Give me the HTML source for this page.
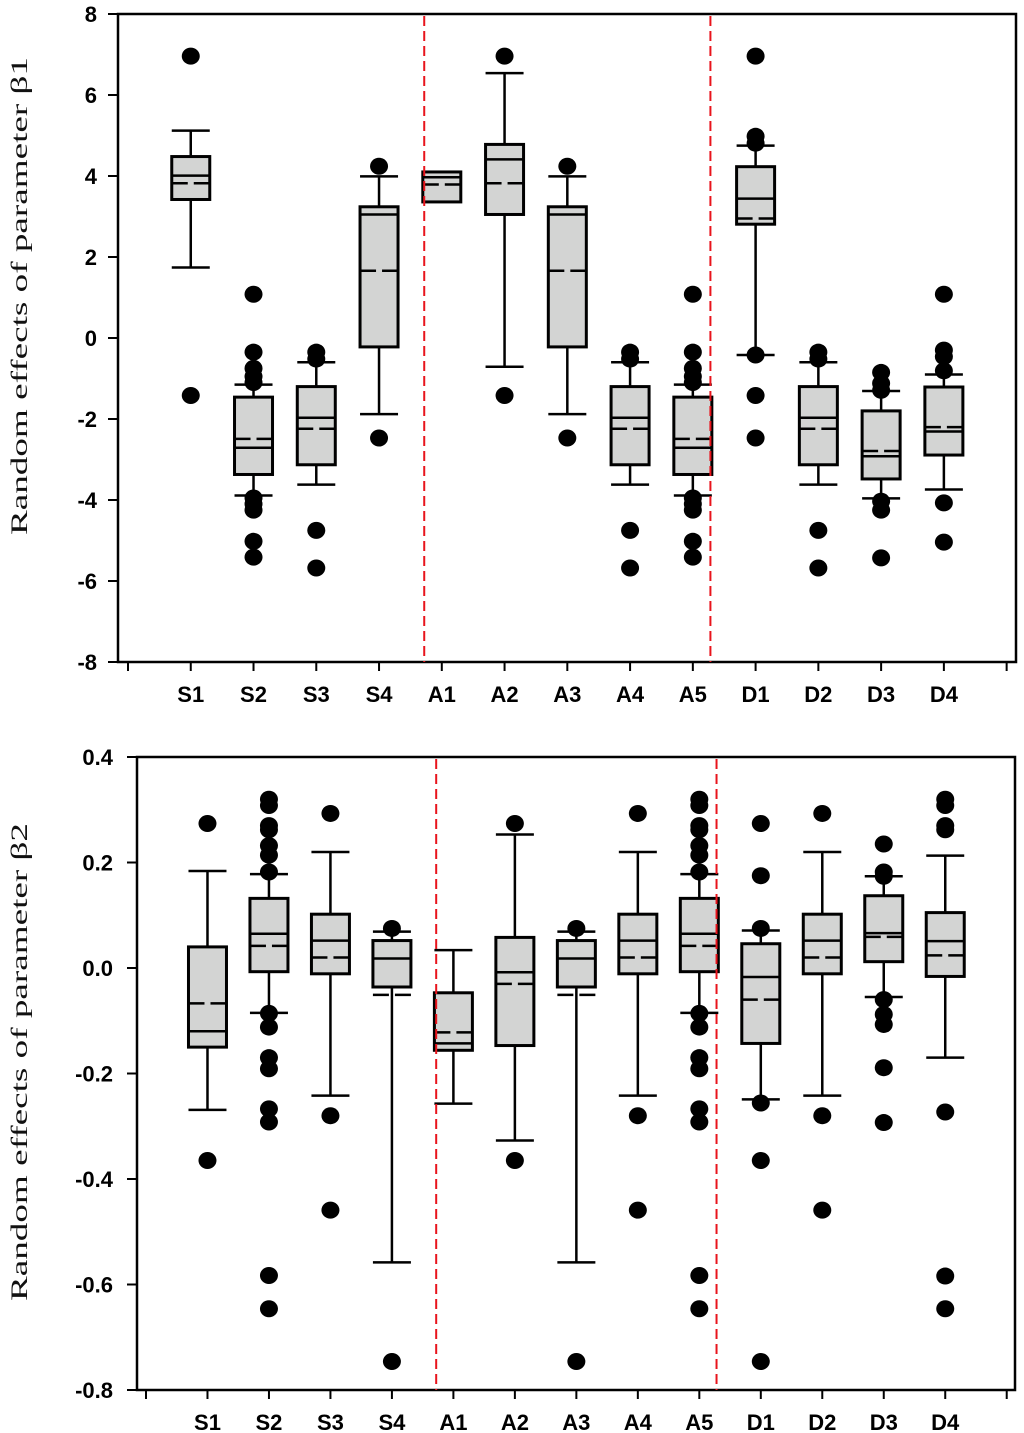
<!DOCTYPE html>
<html><head><meta charset="utf-8"><style>
html,body{margin:0;padding:0;background:#fff;}
svg{display:block;}
.tick{font-family:"Liberation Sans",Arial,sans-serif;font-weight:bold;font-size:22px;fill:#000;}
.ytitle{font-family:"Liberation Serif","Noto Serif CJK SC",serif;font-size:23px;fill:#111;}
</style></head><body>
<svg id="svg" width="1024" height="1433" viewBox="0 0 1024 1433" xmlns="http://www.w3.org/2000/svg"></svg>
<script>
const categories = ["S1","S2","S3","S4","A1","A2","A3","A4","A5","D1","D2","D3","D4"];
const separators = [3.72, 8.28];

// Chart 1: beta1
const b1Ticks = [-8,-6,-4,-2,0,2,4,6,8];
const b1Q3 = [4.48,-1.46,-1.2,3.24,4.1,4.78,3.24,-1.2,-1.46,4.23,-1.2,-1.8,-1.21];
const b1Median = [4.01,-2.71,-1.97,3.05,3.97,4.41,3.05,-1.97,-2.71,3.44,-1.97,-2.92,-2.31];
const b1Q1 = [3.42,-3.37,-3.13,-0.22,3.36,3.05,-0.22,-3.13,-3.37,2.81,-3.13,-3.48,-2.89];
const b1Mean = [3.82,-2.49,-2.24,1.66,3.79,3.82,1.66,-2.24,-2.49,2.95,-2.24,-2.79,-2.2];
const b1WhiskerHigh = [5.12,-1.15,-0.6,3.99,null,6.54,3.99,-0.6,-1.15,4.75,-0.6,-1.31,-0.9];
const b1WhiskerLow = [1.74,-3.89,-3.62,-1.88,null,-0.71,-1.88,-3.62,-3.89,-0.42,-3.62,-3.96,-3.74];
const b1Outliers = [
  [6.96,-1.42],
  [1.08,-0.35,-0.75,-0.95,-1.1,-3.95,-4.1,-4.25,-5.02,-5.41],
  [-0.35,-0.52,-4.75,-5.68],
  [4.24,-2.47],
  [],
  [6.96,-1.42],
  [4.24,-2.47],
  [-0.35,-0.52,-4.75,-5.68],
  [1.08,-0.35,-0.75,-0.95,-1.1,-3.95,-4.1,-4.25,-5.02,-5.41],
  [6.96,4.98,4.81,-0.42,-1.42,-2.47],
  [-0.35,-0.52,-4.75,-5.68],
  [-0.85,-1.12,-1.29,-4.03,-4.25,-5.43],
  [1.08,-0.3,-0.46,-0.81,-4.07,-5.04]
];

// Chart 2: beta2
const b2Ticks = [-0.8,-0.6,-0.4,-0.2,0.0,0.2,0.4];
const b2Q3 = [0.040,0.132,0.102,0.052,-0.047,0.058,0.052,0.102,0.132,0.046,0.102,0.137,0.105];
const b2Median = [-0.120,0.065,0.052,0.018,-0.143,-0.008,0.018,0.052,0.065,-0.017,0.052,0.066,0.051];
const b2Q1 = [-0.150,-0.007,-0.011,-0.036,-0.156,-0.147,-0.036,-0.011,-0.007,-0.143,-0.011,0.012,-0.016];
const b2Mean = [-0.067,0.042,0.020,-0.051,-0.122,-0.030,-0.051,0.020,0.042,-0.060,0.020,0.059,0.024];
const b2WhiskerHigh = [0.184,0.178,0.220,0.069,0.034,0.253,0.069,0.220,0.178,0.071,0.220,0.174,0.213];
const b2WhiskerLow = [-0.269,-0.085,-0.242,-0.558,-0.257,-0.327,-0.558,-0.242,-0.085,-0.249,-0.242,-0.055,-0.170];
const b2Outliers = [
  [0.274,-0.365],
  [0.320,0.308,0.270,0.262,0.232,0.214,0.182,-0.086,-0.112,-0.170,-0.191,-0.267,-0.292,-0.583,-0.646],
  [0.293,-0.280,-0.459],
  [0.075,-0.746],
  [],
  [0.274,-0.365],
  [0.075,-0.746],
  [0.293,-0.280,-0.459],
  [0.320,0.308,0.270,0.262,0.232,0.214,0.182,-0.086,-0.112,-0.170,-0.191,-0.267,-0.292,-0.583,-0.646],
  [0.274,0.175,0.075,-0.256,-0.365,-0.746],
  [0.293,-0.280,-0.459],
  [0.235,0.182,0.174,-0.060,-0.088,-0.107,-0.189,-0.293],
  [0.320,0.308,0.270,0.262,-0.273,-0.584,-0.646]
];

const NS = "http://www.w3.org/2000/svg";
const svg = document.getElementById("svg");
function mk(tag, attrs, parent){
  const e = document.createElementNS(NS, tag);
  for (const k in attrs) e.setAttribute(k, attrs[k]);
  (parent||svg).appendChild(e);
  return e;
}

function drawChart(cfg){
  const g = mk("g", {});
  
  
  const y = v => cfg.top + (cfg.ymax - v) / (cfg.ymax - cfg.ymin) * (cfg.bottom - cfg.top);
  const x = i => cfg.x0 + (i + 1) * cfg.step;
  const bw = 38;

  const fr = mk("rect", {x:cfg.left, y:cfg.top, width:cfg.right-cfg.left, height:cfg.bottom-cfg.top, fill:"none", stroke:"#000", "stroke-width":2.5}, g);
  
  

  cfg.ticks.forEach(t => {
    const yy = y(t);
    const tl = mk("line", {x1:cfg.left-10, x2:cfg.left, y1:yy, y2:yy, stroke:"#000", "stroke-width":2}, g);
    
    
    const tx = mk("text", {x:cfg.labelX, y:yy+8, "text-anchor":"end", class:"tick"}, g);
    tx.textContent = cfg.fmt(t);
    
    
  });

  for (let i = -1; i <= categories.length; i++) {
    const xx = x(i);
    const tl = mk("line", {x1:xx, x2:xx, y1:cfg.bottom, y2:cfg.bottom+9, stroke:"#000", "stroke-width":2}, g);
    
    
  }
  categories.forEach((c, i) => {
    const tx = mk("text", {x:x(i), y:cfg.bottom+40, "text-anchor":"middle", class:"tick"}, g);
    tx.textContent = c;
    
    
  });

  const yt = mk("text", {x:0, y:0, "text-anchor":"middle", class:"ytitle", transform:`translate(${cfg.titleX},${cfg.titleY}) rotate(-90)`, textLength:478, lengthAdjust:"spacingAndGlyphs"}, g);
  yt.textContent = cfg.title;
  
  

  categories.forEach((c, i) => {
    const cx = x(i);
    const bg = mk("g", {}, g);
    
    
    const wh = cfg.wHi[i], wl = cfg.wLo[i];
    if (wh !== null) {
      mk("line", {x1:cx, x2:cx, y1:y(wh), y2:y(cfg.q3[i]), stroke:"#000", "stroke-width":2.5}, bg);
      mk("line", {x1:cx-bw/2, x2:cx+bw/2, y1:y(wh), y2:y(wh), stroke:"#000", "stroke-width":2.5}, bg);
    }
    if (wl !== null) {
      mk("line", {x1:cx, x2:cx, y1:y(cfg.q1[i]), y2:y(wl), stroke:"#000", "stroke-width":2.5}, bg);
      mk("line", {x1:cx-bw/2, x2:cx+bw/2, y1:y(wl), y2:y(wl), stroke:"#000", "stroke-width":2.5}, bg);
    }
    const yT = y(cfg.q3[i]), yB = y(cfg.q1[i]);
    mk("rect", {x:cx-bw/2, y:yT, width:bw, height:yB-yT, fill:"#d3d4d3", stroke:"#000", "stroke-width":3}, bg);
    mk("line", {x1:cx-bw/2, x2:cx+bw/2, y1:y(cfg.med[i]), y2:y(cfg.med[i]), stroke:"#000", "stroke-width":2.5}, bg);
    mk("line", {x1:cx-bw/2, x2:cx+bw/2, y1:y(cfg.mean[i]), y2:y(cfg.mean[i]), stroke:"#000", "stroke-width":2.5, "stroke-dasharray":"16 6 16"}, bg);
    cfg.out[i].forEach(v => {
      const d = mk("ellipse", {cx:cx, cy:y(v), rx:9, ry:8.5, fill:"#000"}, bg);
      
      
    });
  });

  separators.forEach(s => {
    const xx = cfg.x0 + (s + 1) * cfg.step;
    const l = mk("line", {x1:xx, x2:xx, y1:cfg.top+2, y2:cfg.bottom, stroke:"#e8141c", "stroke-width":2, "stroke-dasharray":"10 5"}, g);
    
    
  });
}

drawChart({name:"beta1-chart", left:118, right:1016, top:14, bottom:662, ymin:-8, ymax:8,
  x0:128, step:62.76, labelX:97, ticks:b1Ticks, fmt:t=>String(t),
  title:"Random effects of parameter β1", titleX:27, titleY:296,
  q3:b1Q3, med:b1Median, q1:b1Q1, mean:b1Mean, wHi:b1WhiskerHigh, wLo:b1WhiskerLow, out:b1Outliers});

drawChart({name:"beta2-chart", left:137, right:1015, top:757, bottom:1390, ymin:-0.8, ymax:0.4,
  x0:146, step:61.48, labelX:113, ticks:b2Ticks, fmt:t=>t.toFixed(1),
  title:"Random effects of parameter β2", titleX:27, titleY:1062,
  q3:b2Q3, med:b2Median, q1:b2Q1, mean:b2Mean, wHi:b2WhiskerHigh, wLo:b2WhiskerLow, out:b2Outliers});
</script>
</body></html>
